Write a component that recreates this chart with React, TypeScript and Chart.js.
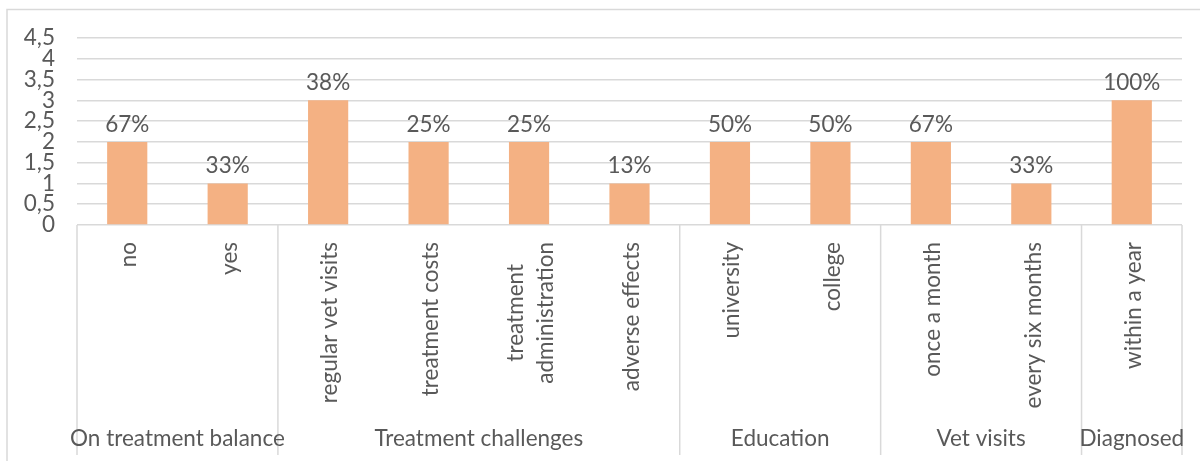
import React, { useEffect, useRef } from "react";
import { Chart, registerables } from "chart.js";

Chart.register(...registerables);

const CATEGORIES: string[][] = [
  ["no"],
  ["yes"],
  ["regular vet visits"],
  ["treatment costs"],
  ["treatment", "administration"],
  ["adverse effects"],
  ["university"],
  ["college"],
  ["once a month"],
  ["every six months"],
  ["within a year"],
];
const VALUES = [2, 1, 3, 2, 2, 1, 2, 2, 2, 1, 3];
const PERCENT_LABELS = ["67%", "33%", "38%", "25%", "25%", "13%", "50%", "50%", "67%", "33%", "100%"];
const GROUPS = ["On treatment balance", "Treatment challenges", "Education", "Vet visits", "Diagnosed"];
const GROUP_SIZES = [2, 4, 2, 2, 1];
const Y_MIN = 0;
const Y_MAX = 4.5;
const Y_STEP = 0.5;

const FONT = "Lato";
const FONT_SIZE = 22.5;
const TEXT_COLOR = "#595959";
const GRID_COLOR = "#d9d9d9";
const BAR_COLOR = "#f4b183";

const overlayPlugin = {
  id: "overlay",
  afterDraw(chart: any) {
    const ctx = chart.ctx;
    const x = chart.scales.x;
    const area = chart.chartArea;
    const n = CATEGORIES.length;
    const step = n > 1 ? x.getPixelForValue(1) - x.getPixelForValue(0) : area.right - area.left;
    ctx.save();
    // outer frame
    ctx.strokeStyle = GRID_COLOR;
    ctx.lineWidth = 1.5;
    ctx.strokeRect(7, 9.5, 1220, 470);

    // data labels
    ctx.fillStyle = TEXT_COLOR;
    ctx.font = `${FONT_SIZE}px ${FONT}`;
    ctx.textAlign = "center";
    ctx.textBaseline = "alphabetic";
    const meta = chart.getDatasetMeta(0);
    meta.data.forEach((bar: any, i: number) => {
      ctx.fillText(PERCENT_LABELS[i], bar.x, bar.y - 10);
    });

    // category labels (rotated)
    const lineH = 30;
    CATEGORIES.forEach((lines, i) => {
      const cx = x.getPixelForValue(i);
      let maxW = 0;
      lines.forEach((l) => (maxW = Math.max(maxW, ctx.measureText(l).width)));
      const topY = area.bottom + 17;
      ctx.save();
      ctx.translate(cx, topY + maxW / 2);
      ctx.rotate(-Math.PI / 2);
      ctx.textAlign = "center";
      ctx.textBaseline = "middle";
      const off = ((lines.length - 1) * lineH) / 2;
      lines.forEach((l, k) => {
        ctx.fillText(l, 0, -off + k * lineH + 2);
      });
      ctx.restore();
    });

    // group separators and labels
    const bottomY = 455;
    ctx.strokeStyle = GRID_COLOR;
    ctx.lineWidth = 1.5;
    let idx = 0;
    const drawSep = (px: number) => {
      ctx.beginPath();
      ctx.moveTo(px, area.bottom);
      ctx.lineTo(px, bottomY);
      ctx.stroke();
    };
    drawSep(x.getPixelForValue(0) - step / 2);
    GROUPS.forEach((g, gi) => {
      const start = x.getPixelForValue(idx) - step / 2;
      idx += GROUP_SIZES[gi];
      const end = x.getPixelForValue(idx - 1) + step / 2;
      drawSep(end);
      ctx.textAlign = "center";
      ctx.textBaseline = "alphabetic";
      ctx.fillText(g, (start + end) / 2, 446);
    });
    ctx.restore();
  },
};

export default function App() {
  const ref = useRef<HTMLCanvasElement | null>(null);
  useEffect(() => {
    if (!ref.current) return;
    const chart = new Chart(ref.current, {
      type: "bar",
      data: {
        labels: CATEGORIES.map((c) => c.join(" ")),
        datasets: [
          {
            data: VALUES,
            backgroundColor: BAR_COLOR,
            borderWidth: 0,
            barPercentage: 0.4,
            categoryPercentage: 1,
          },
        ],
      },
      options: {
        responsive: false,
        animation: false,
        devicePixelRatio: 1,
        layout: { padding: { left: 20, top: 38, right: 18, bottom: 0 } },
        plugins: { legend: { display: false }, tooltip: { enabled: false } },
        scales: {
          x: {
            ticks: { display: false },
            grid: { display: false },
            border: { display: false },
            afterFit: (s: any) => {
              s.height = 461 - 225;
            },
          },
          y: {
            min: Y_MIN,
            max: Y_MAX,
            ticks: {
              stepSize: Y_STEP,
              autoSkip: false,
              padding: 22,
              color: TEXT_COLOR,
              font: { family: FONT, size: FONT_SIZE, lineHeight: 1 },
              callback: (v: any) => String(v).replace(".", ","),
            },
            grid: { color: GRID_COLOR, lineWidth: 1.5, drawTicks: false },
            border: { display: false },
            afterFit: (s: any) => {
              s.width = 77 - 20;
            },
          },
        },
      },
      plugins: [overlayPlugin],
    });
    return () => chart.destroy();
  }, []);
  return (
    <div style={{ position: "fixed", left: 0, top: 0, width: 1200, height: 461, background: "#fff" }}>
      <canvas ref={ref} width={1200} height={461} />
    </div>
  );
}
